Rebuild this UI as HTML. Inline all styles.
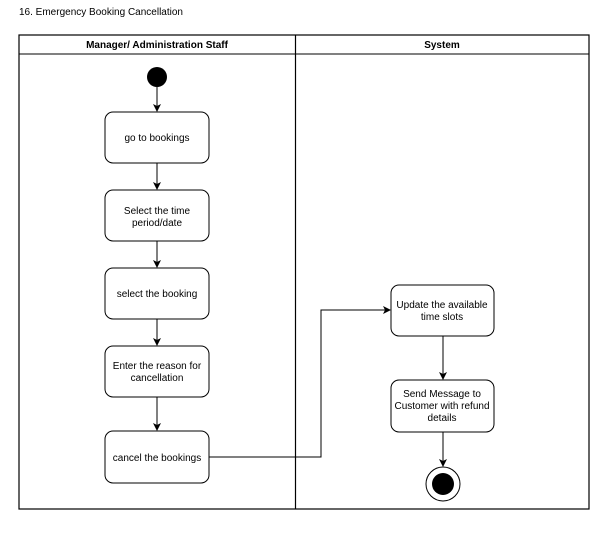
<!DOCTYPE html>
<html><head><style>body{margin:0;background:#fff}</style></head><body>
<svg width="606" height="529" xmlns="http://www.w3.org/2000/svg" font-family="Liberation Sans, sans-serif" font-size="10">
<defs><marker id="a" markerWidth="8" markerHeight="8" refX="7" refY="4" orient="auto" markerUnits="userSpaceOnUse"><path d="M0,0 L8,4 L0,8 L2,4 z" fill="#000"/></marker></defs>
<text x="19" y="15" font-size="10">16. Emergency Booking Cancellation</text>
<rect x="19" y="35" width="570" height="474" fill="none" stroke="#000" stroke-width="1.2"/>
<line x1="19" y1="54" x2="589" y2="54" stroke="#000"/>
<line x1="295.5" y1="35" x2="295.5" y2="509" stroke="#000" stroke-width="1.2"/>
<text x="157" y="48" text-anchor="middle" font-weight="bold">Manager/ Administration Staff</text>
<text x="442" y="48" text-anchor="middle" font-weight="bold">System</text>
<circle cx="157" cy="77" r="10" fill="#000"/>
<g fill="none" stroke="#000">
<line x1="157" y1="87" x2="157" y2="111" marker-end="url(#a)"/>
<line x1="157" y1="163" x2="157" y2="189" marker-end="url(#a)"/>
<line x1="157" y1="241" x2="157" y2="267" marker-end="url(#a)"/>
<line x1="157" y1="319" x2="157" y2="345" marker-end="url(#a)"/>
<line x1="157" y1="397" x2="157" y2="430" marker-end="url(#a)"/>
<polyline points="209,457 321,457 321,310 390,310" marker-end="url(#a)"/>
<line x1="443" y1="336" x2="443" y2="379" marker-end="url(#a)"/>
<line x1="443" y1="432" x2="443" y2="466" marker-end="url(#a)"/>
<rect x="105" y="112" width="104" height="51" rx="8"/>
<rect x="105" y="190" width="104" height="51" rx="8"/>
<rect x="105" y="268" width="104" height="51" rx="8"/>
<rect x="105" y="346" width="104" height="51" rx="8"/>
<rect x="105" y="431" width="104" height="52" rx="8"/>
<rect x="391" y="285" width="103" height="51" rx="8"/>
<rect x="391" y="380" width="103" height="52" rx="8"/>
<circle cx="443" cy="484" r="17"/>
</g>
<circle cx="443" cy="484" r="11" fill="#000"/>
<g text-anchor="middle">
<text x="157" y="141">go to bookings</text>
<text x="157" y="214">Select the time</text><text x="157" y="226">period/date</text>
<text x="157" y="297">select the booking</text>
<text x="157" y="369">Enter the reason for</text><text x="157" y="381">cancellation</text>
<text x="157" y="461">cancel the bookings</text>
<text x="442" y="308">Update the available</text><text x="442" y="320">time slots</text>
<text x="442" y="397">Send Message to</text><text x="442" y="409">Customer with refund</text><text x="442" y="421">details</text>
</g>
</svg>
</body></html>
